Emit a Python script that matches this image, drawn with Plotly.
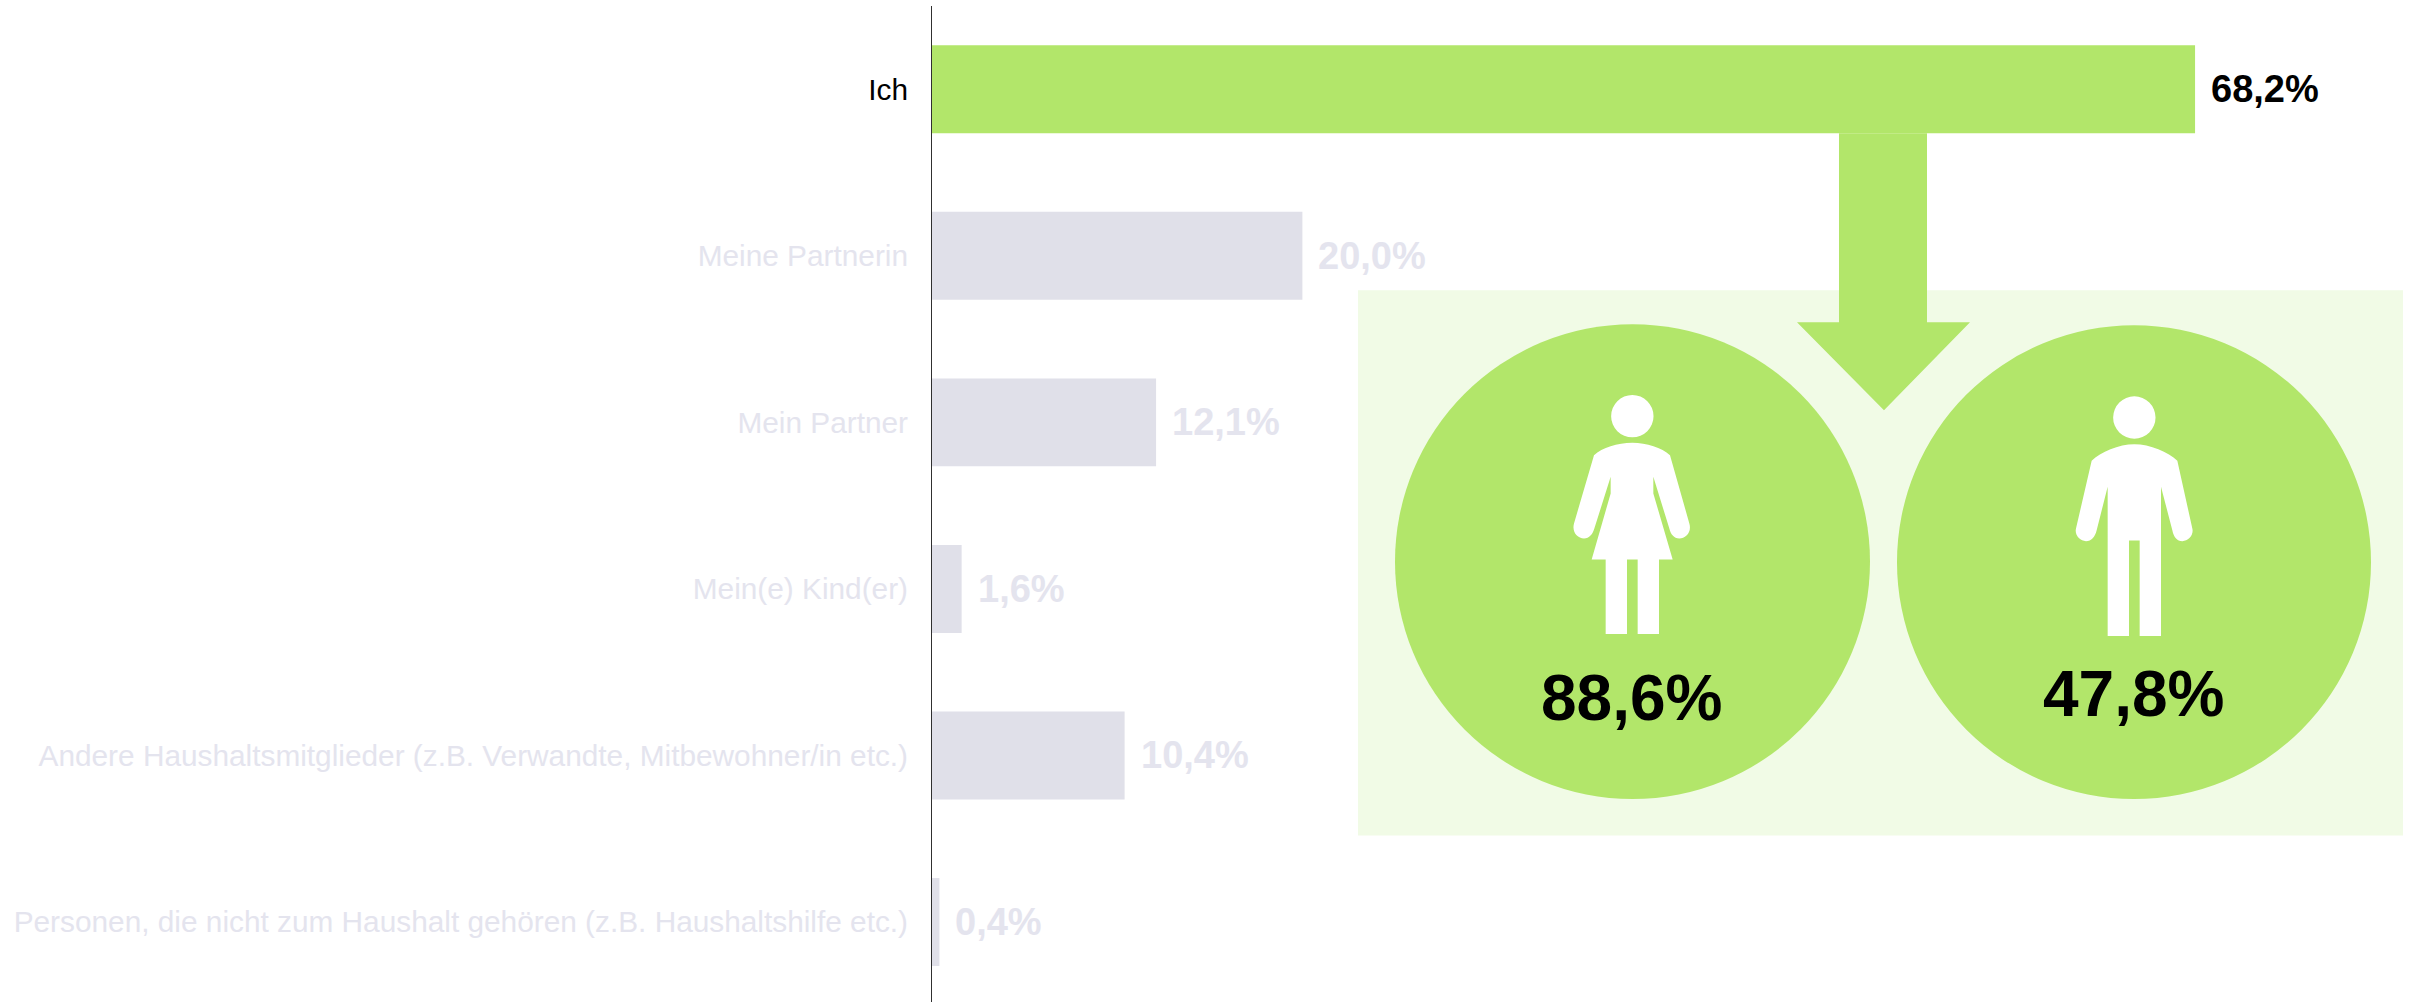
import plotly.graph_objects as go

categories = ["Ich", "Meine Partnerin", "Mein Partner", "Mein(e) Kind(er)",
              "Andere Haushaltsmitglieder (z.B. Verwandte, Mitbewohner/in etc.)",
              "Personen, die nicht zum Haushalt gehören (z.B. Haushaltshilfe etc.)"]
values = [68.2, 20.0, 12.1, 1.6, 10.4, 0.4]
gender_values = [88.6, 47.8]

GREEN = "#B2E66A"
PALE = "#F1FBE6"
GREY = "#E0E0E9"
GREY_TEXT = "#E4E4EE"
FONT = "Liberation Sans"

W, H = 2417, 1002
L, T = 932.0, 5.7
PW, PH = W - L, H - T


def fx(px):
    return (px - L) / PW


def fy(py):
    return 1 - (py - T) / PH


def fmt(v):
    return f"{v:.1f}".replace(".", ",") + "%"


def path(cmds, ox=0.0, oy=0.0, s=1.0):
    out = []
    for c in cmds:
        op, pts = c[0], c[1:]
        out.append(op + " ".join(
            f"{fx(ox + x * s):.6f},{fy(oy + y * s):.6f}" for x, y in pts))
    return " ".join(out) + " Z"


woman = [("M", (277, 188)), ("C", (320, 188), (365, 203), (390, 225)),
         ("L", (448, 430)), ("C", (456, 458), (436, 475), (418, 475)),
         ("C", (402, 475), (392, 462), (388, 445)),
         ("L", (340, 290)), ("L", (340, 340)), ("L", (398, 538)), ("L", (357, 538)),
         ("L", (357, 762)), ("L", (293, 762)), ("L", (293, 538)), ("L", (261, 538)),
         ("L", (261, 762)), ("L", (197, 762)), ("L", (197, 538)), ("L", (155, 538)),
         ("L", (212, 340)), ("L", (212, 290)), ("L", (163, 445)),
         ("C", (158, 462), (148, 475), (132, 475)),
         ("C", (112, 475), (95, 456), (102, 430)),
         ("L", (162, 225)), ("C", (187, 203), (232, 188), (277, 188))]
man = [("M", (283, 192)), ("C", (330, 192), (385, 215), (412, 242)),
       ("L", (457, 445)), ("C", (462, 465), (445, 483), (427, 483)),
       ("C", (411, 483), (401, 470), (397, 450)),
       ("L", (363, 320)), ("L", (363, 768)), ("L", (299, 768)), ("L", (299, 481)),
       ("L", (267, 481)), ("L", (267, 768)), ("L", (203, 768)), ("L", (203, 320)),
       ("L", (170, 450)), ("C", (165, 470), (154, 483), (138, 483)),
       ("C", (120, 483), (103, 465), (108, 445)),
       ("L", (155, 242)), ("C", (182, 215), (236, 192), (283, 192))]

shapes = []


def rect_shape(x0, y0, x1, y1, col):
    return dict(type="rect", xref="paper", yref="paper", layer="below", line_width=0,
                fillcolor=col, x0=fx(x0), x1=fx(x1), y0=fy(y1), y1=fy(y0))


def circle_shape(cx, cy, r, col):
    return dict(type="circle", xref="paper", yref="paper", layer="above", line_width=0,
                fillcolor=col, x0=fx(cx - r), x1=fx(cx + r), y0=fy(cy + r), y1=fy(cy - r))


shapes.append(rect_shape(1358, 290, 2403, 835.5, PALE))
shapes.append(circle_shape(1632.5, 561.5, 237.5, GREEN))
shapes.append(circle_shape(2134, 562, 237, GREEN))
arrow = [("M", (1839, 133)), ("L", (1927, 133)), ("L", (1927, 322)), ("L", (1970, 322)),
         ("L", (1884, 410)), ("L", (1797, 322)), ("L", (1839, 322))]
shapes.append(dict(type="path", xref="paper", yref="paper", layer="above", line_width=0,
                   fillcolor=GREEN, path=path(arrow)))
for fig_path, ox, hx, hy in [(woman, 1540, 277, 108), (man, 2040, 283, 112)]:
    shapes.append(dict(type="path", xref="paper", yref="paper", layer="above", line_width=0,
                       fillcolor="white", path=path(fig_path, ox, 380, 1 / 3)))
    shapes.append(circle_shape(ox + hx / 3, 380 + hy / 3, 21.2, "white"))

annotations = []
for i, v in enumerate(values):
    annotations.append(dict(x=v, y=i, xref="x", yref="y", text=f"<b>{fmt(v)}</b>",
                            showarrow=False, xanchor="left", yanchor="middle", xshift=14,
                            font=dict(family=FONT, size=38,
                                      color="black" if i == 0 else GREY_TEXT)))
for v, cx, cy in zip(gender_values, [1631, 2133], [698, 694]):
    annotations.append(dict(x=fx(cx), y=fy(cy), xref="paper", yref="paper",
                            text=f"<b>{fmt(v)}</b>", showarrow=False,
                            xanchor="center", yanchor="middle",
                            font=dict(family=FONT, size=64, color="black")))

ticktext = [f'<span style="color:{"black" if i == 0 else GREY_TEXT}">{c}</span>'
            for i, c in enumerate(categories)]

fig = go.Figure(go.Bar(
    x=values, y=list(range(len(values))), orientation="h", width=0.528,
    marker=dict(color=[GREEN if i == 0 else GREY for i in range(len(values))], line_width=0),
    hoverinfo="skip",
))
fig.update_layout(
    width=W, height=H, autosize=False, showlegend=False,
    margin=dict(l=L, r=0, t=T, b=0, pad=0),
    paper_bgcolor="white", plot_bgcolor="rgba(0,0,0,0)",
    font=dict(family=FONT, size=30, color="black"),
    shapes=shapes, annotations=annotations,
)
fig.update_xaxes(range=[0, PW / 18.52], visible=False, fixedrange=True)
fig.update_yaxes(range=[(H - 89) / 166.6, -0.5], tickmode="array",
                 tickvals=list(range(len(values))), ticktext=ticktext,
                 showline=True, linecolor="#303030", linewidth=1, ticks="",
                 showgrid=False, zeroline=False, ticklabelstandoff=17,
                 tickfont=dict(family=FONT, size=29.8), fixedrange=True)
fig.write_html("out.html", post_script="document.body.style.margin='0';",
               config=dict(displayModeBar=False))
